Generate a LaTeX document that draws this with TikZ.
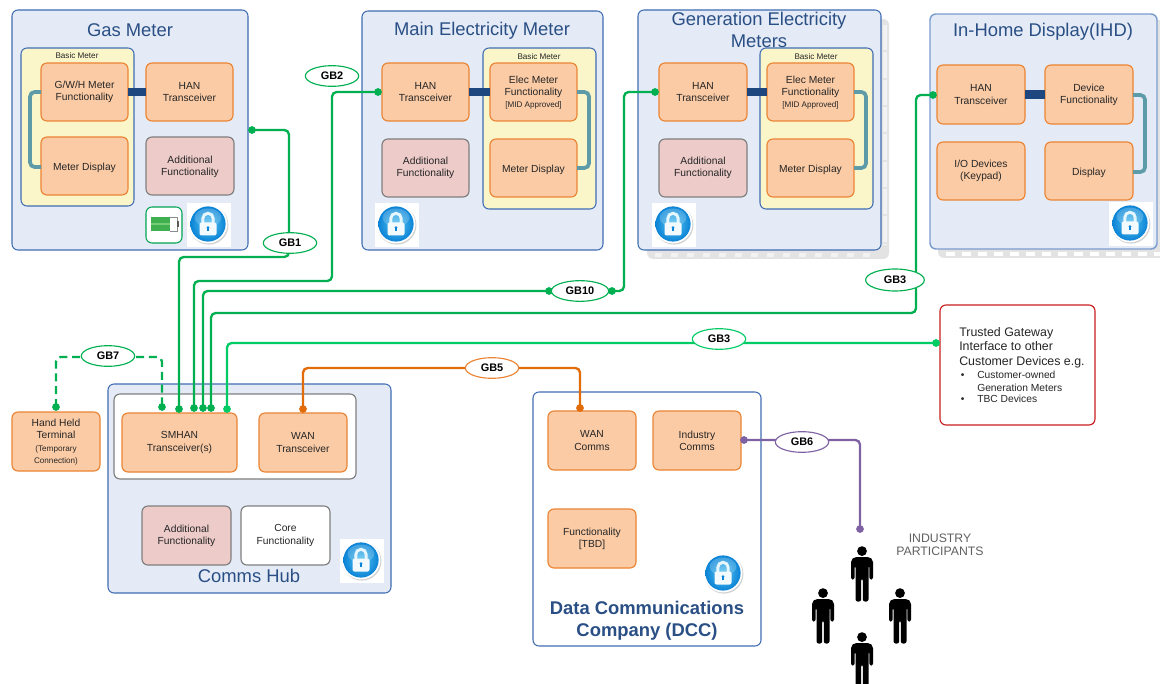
\documentclass[tikz,border=0pt]{standalone}
\usepackage{fontspec}
\setmainfont{Liberation Sans}
\usetikzlibrary{shapes.geometric}
\definecolor{panelfill}{HTML}{E4EBF6}
\definecolor{panelline}{HTML}{3F6DB3}
\definecolor{ihdline}{HTML}{7C9CCF}
\definecolor{titleblue}{HTML}{2A4F85}
\definecolor{yellowfill}{HTML}{FAF6CA}
\definecolor{orfill}{HTML}{FBCBA5}
\definecolor{orline}{HTML}{EB8434}
\definecolor{addfill}{HTML}{ECCBC9}
\definecolor{addline}{HTML}{7F7F7F}
\definecolor{linkblue}{HTML}{1F477F}
\definecolor{linkteal}{HTML}{5E9BA8}
\definecolor{gbgreen}{HTML}{00B050}
\definecolor{gblight}{HTML}{00CC66}
\definecolor{gborange}{HTML}{E26B0A}
\definecolor{gbpurple}{HTML}{7F62A4}
\definecolor{redline}{HTML}{C81E1E}
\definecolor{txt}{HTML}{262626}
\definecolor{shad}{HTML}{E3E3E3}
\definecolor{shadlt}{HTML}{F2F2F2}
\definecolor{lockout}{HTML}{0B83D6}
\definecolor{lockin}{HTML}{58C6F2}
\definecolor{battgreen}{HTML}{3FAF4F}
\definecolor{battlight}{HTML}{74CC74}
\newcommand\fsmall{\fontsize{6.1}{7.6}\selectfont}
\newcommand\fbul{\fontsize{7.7}{9.4}\selectfont}
\newcommand\dnone[1]{\raisebox{-1.2pt}[5.6pt][1.6pt]{#1}}
\newcommand\dnsome[1]{\raisebox{-0.7pt}[5.6pt][1.6pt]{#1}}
\newcommand\bx[7]{\node[#1,minimum width={(#5-#3)*0.75pt},minimum height={(#6-#4)*0.75pt}] (#2) at ({(#3+#5)/2},{(#4+#6)/2}) {#7};}
\tikzset{
  x=0.75pt,y=-0.75pt,
  base/.style={rectangle,rounded corners=4.5pt,inner sep=0pt,outer sep=0pt,align=center,text=txt,font=\fontsize{7.7}{9.2}\selectfont},
  panel/.style={base,draw=panelline,fill=panelfill,line width=0.8pt},
  ihdpanel/.style={panel,draw=ihdline,line width=1.1pt},
  whitepanel/.style={panel,fill=white},
  basicm/.style={base,draw=panelline,fill=yellowfill,line width=0.8pt},
  orbox/.style={base,draw=orline,fill=orfill,line width=0.85pt},
  addbox/.style={base,draw=addline,fill=addfill,line width=0.85pt},
  corebox/.style={addbox,fill=white},
  holdbox/.style={base,draw=addline,fill=white,line width=0.85pt},
  battbox/.style={base,draw=gblight!80!black,fill=white,line width=0.8pt},
  redbox/.style={base,draw=redline,fill=white,line width=0.85pt},
  title/.style={inner sep=0pt,align=center,text=titleblue,font=\fontsize{13.8}{16.5}\selectfont},
  dcctitle/.style={title,font=\fontsize{13.8}{16.5}\selectfont\bfseries},
  basiclabel/.style={inner sep=0pt,text=txt,font=\fsmall},
  squarebg/.style={rectangle,fill=white,inner sep=0pt,minimum size=33pt},
  bluelink/.style={draw=linkblue,line width=6.2pt},
  teallink/.style={draw=linkteal,line width=2.8pt,rounded corners=3.5pt},
  wire/.style={line width=1.75pt,rounded corners=3.5pt},
  dotnode/.style={circle,inner sep=0pt,outer sep=0pt,minimum size=5.8pt},
  gdot/.style={dotnode,fill=gbgreen},
  ldot/.style={dotnode,fill=gblight},
  odot/.style={dotnode,fill=gborange},
  pdot/.style={dotnode,fill=gbpurple},
  gb/.style={ellipse,inner sep=0pt,fill=white,line width=0.85pt,minimum width=40pt,minimum height=15.5pt,text=black,font=\fontsize{8.2}{10}\selectfont\bfseries},
  gbg/.style={gb,draw=gbgreen},
  gbo/.style={gb,draw=orline},
  gbp/.style={gb,draw=gbpurple},
  lock/.pic={
    \fill[black!18] (0.8,1) circle (19.6);
    \fill[white] (0,0) circle (19.4);
    \shade[inner color=lockin,outer color=lockout] (0,0) circle (17.6);
    \fill[white,opacity=.2] (0,-6.5) ellipse (13.5 and 9);
    \draw[white!85!lockin,line width=2.2pt] (-5.2,0) -- (-5.2,-5.5) arc[start angle=180,end angle=0,x radius=5.2,y radius=-5.2] -- (5.2,0);
    \fill[white!92!lockin,rounded corners=1.5pt] (-8.5,-1.5) rectangle (8.5,11.5);
    \fill[lockout] (0,3.6) circle (1.5);
    \fill[lockout] (-0.8,3.6) rectangle (0.8,7.4);
  },
  person/.pic={
    \fill[black] (0,4.6) circle (4.9);
    \fill[black,rounded corners=1.6pt] (-11,33) -- (-11,13.5) -- (-7.7,10.5) -- (7.7,10.5) -- (11,13.5) -- (11,33) -- (7.4,33) -- (7.4,19) -- (6.5,19) -- (6.5,55) -- (0.8,55) -- (0.8,32) -- (-0.8,32) -- (-0.8,55) -- (-6.5,55) -- (-6.5,19) -- (-7.4,19) -- (-7.4,33) -- cycle;
  }
}
\begin{document}
\begin{tikzpicture}
\useasboundingbox (0,0) rectangle (1160,684);
\fill[white] (0,0) rectangle (1160,684);

% shadows
\fill[shad,rounded corners=4.5pt] (647,19) rectangle (889,259);
\draw[shadlt,line width=3pt,dash pattern=on 5pt off 7pt] (655,255) -- (878,255);
\draw[shadlt,line width=2.6pt,dash pattern=on 19pt off 1.5pt] (885,25) -- (885,245);
\fill[shad,rounded corners=4.5pt] (938,20) rectangle (1165,258);
\draw[white,line width=3pt,dash pattern=on 7pt off 5pt] (946,254.5) -- (1160,254.5);

% Gas Meter
\bx{panel}{gas}{12}{10}{248}{250}{}
\node[title] (gastitle) at (130,30) {Gas Meter};
\bx{basicm}{gasbasic}{21}{48}{134}{206}{}
\node[basiclabel] (gasbl) at (77,56) {Basic Meter};
\bx{orbox}{gasfn}{41}{63}{128}{121}{G/W/H Meter\\Functionality}
\bx{orbox}{gasdisp}{41}{137}{128}{195}{\dnone{Meter Display}}
\bx{orbox}{gashan}{146}{63}{233}{121}{HAN\\Transceiver}
\bx{addbox}{gasadd}{146}{137}{234}{195}{\dnsome{Additional}\\\dnsome{Functionality}}
\bx{battbox}{gasbatt}{146}{207}{182}{243}{}
\fill[battgreen] (151,217) rectangle (170,231);
\fill[battlight] (151,223.4) rectangle (170,224.8);
\fill[white] (170,217) rectangle (177,231);
\draw[black!45,line width=0.3pt] (170,217) -- (177,217) -- (177,231) -- (170,231);
\fill[black!65] (177,221) rectangle (179,227);
\node[squarebg] (gaslock) at (209,225) {};
\pic at (208,224) {lock};
\draw[teallink] (gasfn.west |- 0,92) -- (30,92) -- (30,167) -- (gasdisp.west |- 0,167);
\draw[bluelink] (gasfn.east) -- (gashan.west);

% Main Electricity Meter
\bx{panel}{main}{362}{11}{603}{250}{}
\node[title] (maintitle) at (482,30.5) {Main Electricity Meter};
\bx{basicm}{mainbasic}{483}{48}{596}{209}{}
\node[basiclabel] (mainbl) at (539,57) {Basic Meter};
\bx{orbox}{mainhan}{382}{63}{469}{121}{HAN\\Transceiver}
\bx{orbox}{mainfn}{490}{63}{577}{121}{\dnsome{Elec Meter}\\\dnsome{Functionality}\\\fsmall\dnsome{[MID Approved]}}
\bx{orbox}{maindisp}{490}{139}{577}{197}{\dnone{Meter Display}}
\bx{addbox}{mainadd}{382}{139}{469}{197}{Additional\\Functionality}
\node[squarebg] (mainlock) at (397,225) {};
\pic at (396,224) {lock};
\draw[teallink] (mainfn.east |- 0,92) -- (589,92) -- (589,168) -- (maindisp.east |- 0,168);
\draw[bluelink] (mainhan.east) -- (mainfn.west);

% Generation Electricity Meters
\bx{panel}{gen}{638}{10}{881}{250}{}
\bx{basicm}{genbasic}{760}{48}{873}{209}{}
\node[title] (gentitle) at (759,30) {Generation Electricity\\Meters};
\node[basiclabel] (genbl) at (816,57) {Basic Meter};
\bx{orbox}{genhan}{659}{63}{747}{121}{HAN\\Transceiver}
\bx{orbox}{genfn}{767}{63}{854}{121}{\dnsome{Elec Meter}\\\dnsome{Functionality}\\\fsmall\dnsome{[MID Approved]}}
\bx{orbox}{gendisp}{767}{139}{854}{197}{\dnone{Meter Display}}
\bx{addbox}{genadd}{659}{139}{747}{197}{Additional\\Functionality}
\node[squarebg] (genlock) at (674,225) {};
\pic at (673,224) {lock};
\draw[teallink] (genfn.east |- 0,92) -- (866,92) -- (866,168) -- (gendisp.east |- 0,168);
\draw[bluelink] (genhan.east) -- (genfn.west);

% IHD
\bx{ihdpanel}{ihd}{930}{14}{1157}{249}{}
\node[title] (ihdtitle) at (1043,31.5) {In-Home Display(IHD)};
\bx{orbox}{ihdhan}{937}{65}{1025}{124}{HAN\\Transceiver}
\bx{orbox}{ihdfn}{1045}{65}{1133}{124}{Device\\Functionality}
\bx{orbox}{ihdio}{937}{142}{1025}{200}{I/O Devices\\(Keypad)}
\bx{orbox}{ihddisp}{1045}{142}{1133}{200}{\dnone{Display}}
\node[squarebg] (ihdlock) at (1131,224) {};
\pic at (1130,223) {lock};
\draw[teallink] (ihdfn.east |- 0,95) -- (1145,95) -- (1145,172) -- (ihddisp.east |- 0,172);
\draw[bluelink] (ihdhan.east) -- (ihdfn.west);

% Comms Hub
\bx{panel}{hub}{108}{384}{391}{593}{}
\bx{holdbox}{hubhold}{114}{394}{356}{479}{}
\bx{orbox}{smhan}{122}{413}{237}{472}{SMHAN\\Transceiver(s)}
\bx{orbox}{wan}{259}{413}{347}{472}{WAN\\Transceiver}
\bx{addbox}{hubadd}{142}{506}{231}{565}{Additional\\Functionality}
\bx{corebox}{hubcore}{241}{506}{330}{565}{Core\\Functionality}
\node[title] (hubtitle) at (249,576) {Comms Hub};
\node[squarebg] (hublock) at (362,561) {};
\pic at (361,560) {lock};

% Hand Held
\bx{orbox}{hand}{12}{412}{100}{471}{\dnsome{Hand Held}\\\dnsome{Terminal}\\\fsmall\dnsome{(Temporary}\\\fsmall\dnsome{Connection)}}

% DCC
\bx{whitepanel}{dcc}{533}{392}{761}{646}{}
\bx{orbox}{dccwan}{548}{411}{636}{470}{WAN\\Comms}
\bx{orbox}{dccind}{653}{411}{741}{470}{Industry\\Comms}
\bx{orbox}{dccfn}{548}{509}{636}{568}{Functionality\\{[TBD]}}
\pic at (723,573) {lock};
\node[dcctitle] (dcctitle) at (647,620.5) {Data Communications\\Company (DCC)};

% Trusted Gateway
\bx{redbox}{trusted}{940}{305}{1095}{425}{}
\node[anchor=north west,inner sep=0pt,align=left,text=txt,font=\fontsize{9.3}{11}\selectfont] (trustedtext) at (959,327) {Trusted Gateway\\Interface to other\\Customer Devices e.g.\\[-1.3pt]\fbul\makebox[13.5pt][l]{\,•}Customer-owned\\[-1.6pt]\fbul\hspace*{13.5pt}Generation Meters\\[-2.4pt]\fbul\makebox[13.5pt][l]{\,•}TBC Devices};

% connector end dots
\node[gdot] (a1) at (252,130) {};
\node[gdot] (a2) at (179,409) {};
\node[gdot] (b1) at (378,92) {};
\node[gdot] (b2) at (194,408) {};
\node[gdot] (c1) at (655,92) {};
\node[gdot] (c2) at (612,291) {};
\node[gdot] (c3) at (549,291) {};
\node[gdot] (c4) at (203,408) {};
\node[gdot] (d1) at (933,95) {};
\node[gdot] (d2) at (211,408) {};
\node[ldot] (e1) at (936,343) {};
\node[ldot] (e2) at (227,409) {};
\node[odot] (f1) at (303,409) {};
\node[odot] (f2) at (580,408) {};
\node[pdot] (g1) at (744,440) {};
\node[pdot] (g2) at (860,529) {};
\node[gdot] (h1) at (56,407) {};
\node[gdot] (h2) at (162,407) {};

% connectors
\draw[wire,gbgreen] (a1.center) -- (289,130) -- (289,257) -- (179,257) -- (a2.center);
\draw[wire,gbgreen] (b1.center) -- (332,92) -- (332,281) -- (194,281) -- (b2.center);
\draw[wire,gbgreen] (c1.center) -- (624,92) -- (624,291) -- (c2.center);
\draw[wire,gbgreen] (c3.center) -- (203,291) -- (c4.center);
\draw[wire,gbgreen] (d1.center) -- (916,95) -- (916,313) -- (211,313) -- (d2.center);
\draw[wire,gblight] (e1.center) -- (227,343) -- (e2.center);
\draw[wire,gborange] (f1.center) -- (303,368) -- (580,368) -- (f2.center);
\draw[wire,gbpurple] (g1.center) -- (860,440) -- (g2.center);
\draw[wire,gbgreen,dash pattern=on 6pt off 3.6pt] (h1.center) -- (56,357) -- (162,357) -- (h2.center);

% labels on connectors
\node[gbg] (gb1) at (290,243) {GB1};
\node[gbg] (gb2) at (332,76) {GB2};
\node[gbg,minimum width=43pt] (gb10) at (580,291) {GB10};
\node[gbg,minimum width=44pt,minimum height=16.5pt] (gb3a) at (895,280) {GB3};
\node[gbg,draw=gblight] (gb3b) at (719,339) {GB3};
\node[gbo] (gb5) at (492,368) {GB5};
\node[gbp] (gb6) at (802,442) {GB6};
\node[gbg] (gb7) at (108,356) {GB7};

% Industry participants
\pic at (862,546.5) {person};
\pic at (823,588.5) {person};
\pic at (900,588.5) {person};
\pic at (862,632.5) {person};
\node[inner sep=0pt,align=center,text=black!62,font=\fontsize{9.2}{9.9}\selectfont] (ind) at (940,544.5) {INDUSTRY\\PARTICIPANTS};
\end{tikzpicture}
\end{document}
